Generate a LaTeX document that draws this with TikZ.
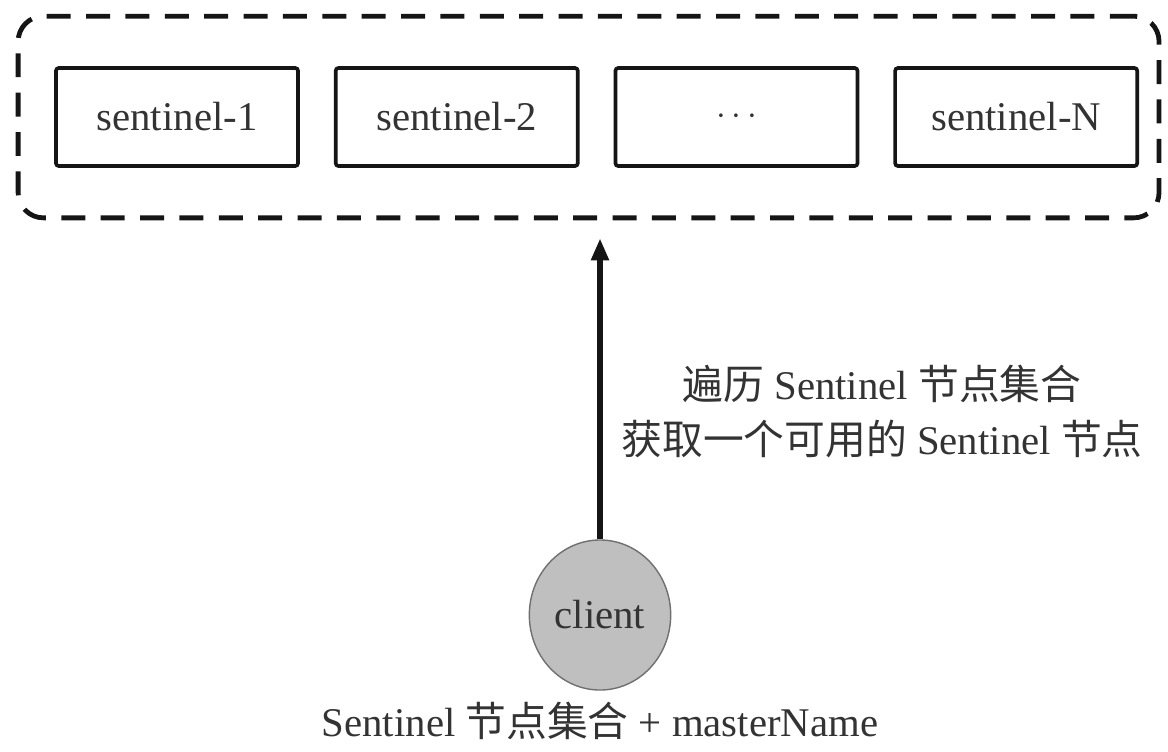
\documentclass[tikz,border=0pt]{standalone}
\usepackage{fontspec}
\usepackage{tikz}
\usetikzlibrary{shapes.geometric, arrows.meta, positioning, fit}
\setmainfont{Liberation Serif}
\newfontfamily\cjk{Noto Sans CJK SC}
\definecolor{ink}{HTML}{151515}
\definecolor{textgray}{HTML}{333333}
\definecolor{clientfill}{HTML}{BFBFBF}
\definecolor{clientedge}{HTML}{707070}
\tikzset{
  sentinelbox/.style={
    rectangle, rounded corners=2pt,
    minimum width=6.05cm, minimum height=2.45cm,
    text centered, draw=ink, line width=2.6pt,
    font=\fontsize{29}{34}\selectfont, text=textgray,
  },
  groupbox/.style={
    rectangle, rounded corners=18pt,
    draw=ink, line width=3.4pt,
    dash pattern=on 17pt off 11pt,
    inner xsep=0.7cm, inner ysep=1.25cm, xshift=-0.2cm,
  },
  clientnode/.style={
    ellipse, minimum width=3.35cm, minimum height=3.75cm,
    fill=clientfill, draw=clientedge, line width=1pt,
    font=\fontsize{29}{34}\selectfont, text=textgray,
  },
  arrow/.style={-{Triangle[length=0.55cm, width=0.42cm]}, line width=4pt, color=ink},
  desc/.style={font=\fontsize{29}{39}\selectfont, text=textgray, align=center},
}

\begin{document}
\begin{tikzpicture}[x=0.025cm, y=-0.025cm, node distance=0.85cm]
  \useasboundingbox (0,0) rectangle (1168,751);

  \node[sentinelbox] (s1) at (177,117) {sentinel-1};
  \node[sentinelbox, right=of s1] (s2) {sentinel-2};
  \node[sentinelbox, right=of s2] (sdots) {$\cdots$};
  \node[sentinelbox, right=of sdots] (sN) {sentinel-N};
  \node[groupbox, fit=(s1) (s2) (sdots) (sN)] (group) {};

  \node[clientnode] (client) at (600,615) {client};
  \node[desc, below=0.2cm of client, inner sep=2pt] (input)
    {Sentinel {\cjk 节点集合} + masterName};

  \draw[arrow, shorten >=0.45cm] (client) -- (client |- group.south)
    node[desc, pos=0.4, right=0.35cm]
    {{\cjk 遍历} Sentinel {\cjk 节点集合}\\{\cjk 获取一个可用的} Sentinel {\cjk 节点}};

\end{tikzpicture}
\end{document}
